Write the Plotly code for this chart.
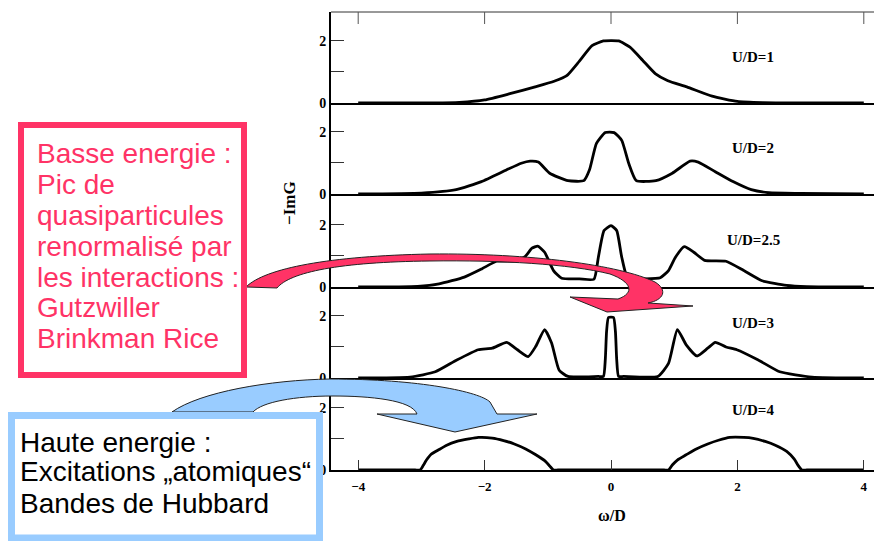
import plotly.graph_objects as go
from plotly.subplots import make_subplots

# ---------------- data ----------------
panel_labels = ["U/D=1", "U/D=2", "U/D=2.5", "U/D=3", "U/D=4"]

x_u1 = [-4, -2.8, -2.4, -2.0, -1.6, -1.2, -0.9, -0.7, -0.5, -0.3, -0.12, 0.12, 0.3, 0.5, 0.7, 0.9, 1.2, 1.6, 2.0, 2.4, 2.8, 4]
y_u1 = [0, 0, 0.02, 0.1, 0.3, 0.52, 0.7, 0.88, 1.35, 1.85, 2.0, 2.0, 1.8, 1.38, 0.95, 0.72, 0.52, 0.22, 0.05, 0.01, 0, 0]

x_u2 = [-4, -3.0, -2.45, -2.05, -1.65, -1.42, -1.28, -1.15, -0.97, -0.68, -0.43, -0.34, -0.23, -0.09, 0.05, 0.17, 0.28, 0.40, 0.71, 0.97, 1.25, 1.38, 1.65, 1.93, 2.22, 2.5, 3.0, 4]
y_u2 = [0, 0.03, 0.14, 0.40, 0.78, 0.99, 1.06, 1.03, 0.67, 0.43, 0.43, 0.78, 1.63, 1.98, 1.98, 1.73, 0.99, 0.43, 0.43, 0.67, 1.06, 1.03, 0.72, 0.40, 0.14, 0.04, 0.02, 0]

x_u25 = [-4, -3.06, -2.72, -2.32, -2.04, -1.81, -1.53, -1.36, -1.25, -1.16, -1.05, -0.91, -0.78, -0.5, -0.27, -0.20, -0.11, 0, 0.09, 0.17, 0.27, 0.5, 0.78, 0.91, 1.02, 1.16, 1.31, 1.48, 1.82, 2.1, 2.39, 2.78, 3.1, 4]
y_u25 = [0, 0.02, 0.1, 0.32, 0.59, 0.83, 0.84, 0.98, 1.25, 1.32, 1.12, 0.53, 0.28, 0.26, 0.25, 0.96, 1.82, 1.98, 1.82, 0.96, 0.25, 0.26, 0.3, 0.53, 0.96, 1.30, 1.12, 0.86, 0.83, 0.53, 0.2, 0.05, 0.01, 0]

x_u3 = [-4, -3.18, -2.78, -2.44, -2.1, -1.88, -1.65, -1.48, -1.31, -1.19, -1.05, -0.94, -0.82, -0.68, -0.2, -0.12, -0.09, -0.07, -0.04, 0.04, 0.07, 0.09, 0.12, 0.2, 0.74, 0.91, 1.05, 1.19, 1.36, 1.53, 1.65, 1.82, 1.99, 2.33, 2.67, 3.18, 4]
y_u3 = [0, 0.03, 0.2, 0.58, 0.91, 0.96, 1.15, 0.91, 0.69, 1.02, 1.56, 1.13, 0.25, 0.05, 0.05, 0.05, 0.6, 1.5, 1.95, 1.95, 1.5, 0.6, 0.05, 0.05, 0.05, 0.47, 1.56, 1.07, 0.71, 0.96, 1.15, 1.0, 0.91, 0.58, 0.2, 0.03, 0]

x_u4 = [-4, -3.1, -3.02, -2.97, -2.92, -2.85, -2.72, -2.6, -2.44, -2.25, -2.1, -1.88, -1.7, -1.53, -1.35, -1.19, -1.05, -0.97, -0.91, -0.84, 0.84, 0.91, 0.97, 1.05, 1.19, 1.35, 1.53, 1.7, 1.88, 2.1, 2.25, 2.44, 2.6, 2.78, 2.9, 2.96, 3.02, 3.1, 4]
y_u4 = [0, 0, 0, 0.15, 0.32, 0.5, 0.66, 0.8, 0.92, 1.0, 1.05, 1.03, 0.95, 0.84, 0.68, 0.49, 0.3, 0.13, 0, 0, 0, 0, 0.16, 0.32, 0.49, 0.68, 0.84, 0.96, 1.05, 1.05, 1.02, 0.92, 0.8, 0.6, 0.35, 0.15, 0, 0, 0]

label_x = 2.25
label_y = [1.48, 1.48, 1.52, 1.77, 1.94]

x_tickvals = [-4, -2, 0, 2, 4]
x_ticktext = ["\u22124", "\u22122", "0", "2", "4"]
y_tickvals = [0, 1, 2]
y_ticktext = ["0", "", "2"]

pink_lines = ["Basse energie :", "Pic de", "quasiparticules", "renormalisé par",
              "les interactions :", "Gutzwiller", "Brinkman Rice"]
blue_lines = ["Haute energie :", "Excitations \u201eatomiques\u201c", "Bandes de Hubbard"]

xs = [x_u1, x_u2, x_u25, x_u3, x_u4]
ys = [y_u1, y_u2, y_u25, y_u3, y_u4]

# ---------------- layout geometry (reference pixel space) ----------------
OFF = 8                      # page offset of the figure div
W, H = 882 - OFF, 541 - OFF  # figure size
PLOT_L, PLOT_R, PLOT_T, PLOT_B = 331, 882, 12, 470   # plot area in window pixels
ML, MT = PLOT_L - OFF, PLOT_T - OFF
MR = (882 - PLOT_R)
MB = 541 - PLOT_B
PW, PH = PLOT_R - PLOT_L, PLOT_B - PLOT_T


def px(x):
    return (x - PLOT_L) / PW


def py(y):
    return (PLOT_B - y) / PH


PINK = "#FF3366"
BLUE = "#99CCFF"
SERIF = "Liberation Serif"
SANS = "Liberation Sans"

bounds = [12, 103, 194, 287, 378, 470]  # panel edges (pixels)

fig = make_subplots(rows=5, cols=1, shared_xaxes=True, vertical_spacing=0)

for i in range(5):
    fig.add_trace(go.Scatter(x=xs[i], y=ys[i], mode="lines",
                             line=dict(color="black", width=2.8, shape="spline", smoothing=0.5),
                             showlegend=False, hoverinfo="skip"),
                  row=i + 1, col=1)

xr = [(PLOT_L - 611) / 63.2, (PLOT_R - 611) / 63.2]

for i in range(5):
    n = "" if i == 0 else str(i + 1)
    top, bot = bounds[i], bounds[i + 1]
    fig.layout["yaxis" + n].update(
        domain=[py(bot), py(top)], range=[0, 2.95 * (bot - top) / 91.5],
        showgrid=False, zeroline=False, showline=True, linecolor="black", linewidth=2,
        ticks="inside", ticklen=13, tickwidth=1, tickcolor="#333",
        tickvals=y_tickvals, ticktext=y_ticktext,
        tickfont=dict(family=SERIF, size=14, color="black", weight="bold"))
    fig.layout["xaxis" + n].update(
        range=xr, showgrid=False, zeroline=False, showline=True,
        linecolor="black", linewidth=2, ticks="", showticklabels=False)
    fig.add_annotation(x=label_x, y=label_y[i], xref="x" + n, yref="y" + n,
                       text=panel_labels[i], showarrow=False,
                       font=dict(family=SERIF, size=15, color="black", weight="bold"))
    # right-hand inward ticks
    for v in y_tickvals[1:]:
        fig.add_shape(type="line", xref="paper", yref="y" + n,
                      x0=px(874), x1=1, y0=v, y1=v, line=dict(color="#444", width=1))

fig.layout.xaxis5.update(ticks="inside", ticklen=10, tickwidth=1, tickcolor="#333",
                         showticklabels=True, tickvals=x_tickvals, ticktext=x_ticktext,
                         ticklabelstandoff=3,
                         tickfont=dict(family=SERIF, size=13, color="black", weight="bold"))

# top frame with inward ticks
fig.add_shape(type="line", xref="paper", yref="paper", x0=0, x1=1, y0=1, y1=1,
              line=dict(color="#333", width=1))
for v in x_tickvals:
    fig.add_shape(type="line", xref="x", yref="paper", x0=v, x1=v,
                  y0=1, y1=py(12 + 12), line=dict(color="#555", width=1))

# axis titles
fig.add_annotation(xref="paper", yref="paper", x=px(289), y=py(203), text="\u2212ImG",
                   textangle=-90, showarrow=False, xanchor="center", yanchor="middle",
                   font=dict(family=SERIF, size=17, color="black", weight="bold"))
fig.add_annotation(xref="paper", yref="paper", x=px(612), y=py(516), text="\u03c9/D",
                   showarrow=False, xanchor="center", yanchor="middle",
                   font=dict(family=SERIF, size=16, color="black", weight="bold"))


def path(points_cmds):
    out = []
    for cmd, pts in points_cmds:
        coords = " ".join(f"{px(a):.5f},{py(b):.5f}" for a, b in pts)
        out.append(f"{cmd} {coords}")
    return " ".join(out) + " Z"


pink_arrow = path([
    ("M", [(246, 287)]),
    ("C", [(265, 268), (330, 256), (430, 254)]),
    ("C", [(530, 253), (620, 265), (655, 282)]),
    ("C", [(668, 290), (664, 300), (648, 303)]),
    ("L", [(693, 306)]),
    ("L", [(607, 312)]),
    ("L", [(570, 297)]),
    ("L", [(618, 299)]),
    ("C", [(635, 293), (632, 282), (610, 274)]),
    ("C", [(570, 264), (500, 260), (430, 261)]),
    ("C", [(340, 262), (290, 272), (277, 288)]),
])
blue_arrow = path([
    ("M", [(172, 412)]),
    ("C", [(200, 392), (270, 380), (330, 379)]),
    ("C", [(420, 379), (480, 392), (490, 402)]),
    ("L", [(497, 414)]),
    ("L", [(537, 414)]),
    ("L", [(455, 432)]),
    ("L", [(377, 414)]),
    ("L", [(417, 414)]),
    ("C", [(412, 400), (370, 396), (333, 396)]),
    ("C", [(295, 396), (262, 402), (253, 412)]),
])

fig.add_shape(type="path", xref="paper", yref="paper", path=pink_arrow,
              fillcolor=PINK, line=dict(color="#222", width=1), layer="above")
fig.add_shape(type="path", xref="paper", yref="paper", path=blue_arrow,
              fillcolor=BLUE, line=dict(color="#222", width=1), layer="above")

# text boxes
fig.add_shape(type="rect", xref="paper", yref="paper",
              x0=px(21), x1=px(244), y0=py(375), y1=py(125),
              fillcolor="white", line=dict(color=PINK, width=6), layer="above")
fig.add_shape(type="rect", xref="paper", yref="paper",
              x0=px(11.5), x1=px(319.5), y0=py(538), y1=py(415.5),
              fillcolor="white", line=dict(color=BLUE, width=7), layer="above")

pink_y = [153, 184, 215, 246, 277, 307, 338]
for t, yy in zip(pink_lines, pink_y):
    fig.add_annotation(xref="paper", yref="paper", x=px(35), y=py(yy), text=t,
                       xanchor="left", yanchor="middle", showarrow=False,
                       font=dict(family=SANS, size=28, color=PINK))
blue_y = [442, 472, 503]
for t, yy in zip(blue_lines, blue_y):
    fig.add_annotation(xref="paper", yref="paper", x=px(18), y=py(yy), text=t,
                       xanchor="left", yanchor="middle", showarrow=False,
                       font=dict(family=SANS, size=28, color="black"))

fig.update_layout(width=W, height=H, margin=dict(l=ML, r=MR, t=MT, b=MB),
                  paper_bgcolor="white", plot_bgcolor="white", showlegend=False)

fig.write_html("out.html")
